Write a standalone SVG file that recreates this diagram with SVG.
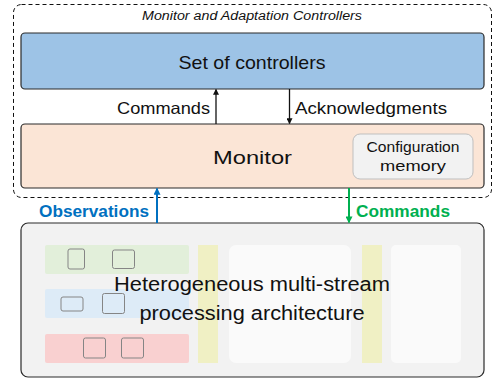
<svg xmlns="http://www.w3.org/2000/svg" width="493" height="382" viewBox="0 0 493 382">
<style>
text{font-family:"Liberation Sans",Arial,sans-serif;fill:#111}
.box{stroke:#2b2b2b;stroke-width:1.2}
.small{fill:none;stroke:#858585;stroke-width:1}
</style>
<defs>
<marker id="ab" viewBox="0 0 8 8" refX="7" refY="4" markerWidth="6" markerHeight="6" orient="auto" markerUnits="userSpaceOnUse"><path d="M0,0 L8,4 L0,8 z" fill="#111"/></marker>
<marker id="abl" viewBox="0 0 8 8" refX="7" refY="4" markerWidth="7" markerHeight="7" orient="auto" markerUnits="userSpaceOnUse"><path d="M0,0 L8,4 L0,8 z" fill="#0070C0"/></marker>
<marker id="agr" viewBox="0 0 8 8" refX="7" refY="4" markerWidth="7" markerHeight="7" orient="auto" markerUnits="userSpaceOnUse"><path d="M0,0 L8,4 L0,8 z" fill="#00B050"/></marker>
</defs>
<rect width="493" height="382" fill="#fff"/>
<g id="group-monitor-adaptation">
<rect x="13.5" y="4.5" width="478" height="193" rx="8" fill="none" stroke="#111" stroke-width="1" stroke-dasharray="4,3"/>
<text x="252" y="20" font-size="12" font-style="italic" text-anchor="middle" textLength="220" lengthAdjust="spacingAndGlyphs">Monitor and Adaptation Controllers</text>
</g>
<g id="controllers">
<rect class="box" x="21" y="33" width="463" height="56" rx="4" fill="#9DC3E6"/>
<text x="252" y="69" font-size="19" text-anchor="middle" textLength="147" lengthAdjust="spacingAndGlyphs">Set of controllers</text>
</g>
<g id="monitor">
<rect class="box" x="21" y="124" width="463" height="64" rx="4" fill="#FBE5D6"/>
<text x="252.5" y="164" font-size="19" text-anchor="middle" textLength="79" lengthAdjust="spacingAndGlyphs">Monitor</text>
</g>
<g id="config-memory">
<rect x="353" y="134" width="120" height="45" rx="7" fill="#F2F2F2" stroke="#BFBFBF" stroke-width="1"/>
<text x="413" y="151.5" font-size="14" text-anchor="middle" textLength="93" lengthAdjust="spacingAndGlyphs">Configuration</text>
<text x="413" y="171" font-size="14" text-anchor="middle" textLength="66" lengthAdjust="spacingAndGlyphs">memory</text>
</g>
<g id="architecture">
<rect class="box" x="21" y="223" width="463" height="154" rx="7" fill="#F2F2F2"/>
<rect x="45" y="245" width="144" height="29" rx="2" fill="#E2EFDA"/>
<rect x="45" y="289" width="144" height="29" rx="2" fill="#DDEBF7"/>
<rect x="45" y="334" width="144" height="29" rx="2" fill="#F9D0D0"/>
<rect x="198" y="245" width="20" height="118" fill="#F0F0C4"/>
<rect x="229" y="245" width="122" height="118" rx="7" fill="#FAFAFA"/>
<rect x="362" y="245" width="20" height="118" fill="#F0F0C4"/>
<rect x="391" y="245" width="70" height="118" rx="5" fill="#FAFAFA"/>
<rect class="small" x="68" y="249" width="16.5" height="20" rx="2"/>
<rect class="small" x="112.5" y="250" width="22" height="18.5" rx="2"/>
<rect class="small" x="61" y="297" width="22" height="14" rx="2"/>
<rect class="small" x="102.5" y="293.5" width="22" height="20" rx="2"/>
<rect class="small" x="83.5" y="338" width="22" height="20" rx="2"/>
<rect class="small" x="121.5" y="338" width="22" height="20" rx="2"/>
<text x="252" y="290.5" font-size="20" text-anchor="middle" textLength="276" lengthAdjust="spacingAndGlyphs">Heterogeneous multi-stream</text>
<text x="252" y="319.5" font-size="20" text-anchor="middle" textLength="225" lengthAdjust="spacingAndGlyphs">processing architecture</text>
</g>
<g id="connectors">
<line x1="216" y1="124" x2="216" y2="89.5" stroke="#111" stroke-width="1.3" marker-end="url(#ab)"/>
<line x1="289.5" y1="89" x2="289.5" y2="123.5" stroke="#111" stroke-width="1.3" marker-end="url(#ab)"/>
<text x="210" y="114" font-size="16.5" text-anchor="end" textLength="93" lengthAdjust="spacingAndGlyphs">Commands</text>
<text x="295" y="114" font-size="16.5" textLength="152" lengthAdjust="spacingAndGlyphs">Acknowledgments</text>
<line x1="157" y1="223" x2="157" y2="188.5" stroke="#0070C0" stroke-width="2" marker-end="url(#abl)"/>
<line x1="349" y1="188" x2="349" y2="222.5" stroke="#00B050" stroke-width="2" marker-end="url(#agr)"/>
<text x="149" y="217" font-size="17" font-weight="bold" text-anchor="end" style="fill:#0070C0" textLength="110" lengthAdjust="spacingAndGlyphs">Observations</text>
<text x="356" y="217" font-size="17" font-weight="bold" style="fill:#00B050" textLength="94" lengthAdjust="spacingAndGlyphs">Commands</text>
</g>
</svg>
